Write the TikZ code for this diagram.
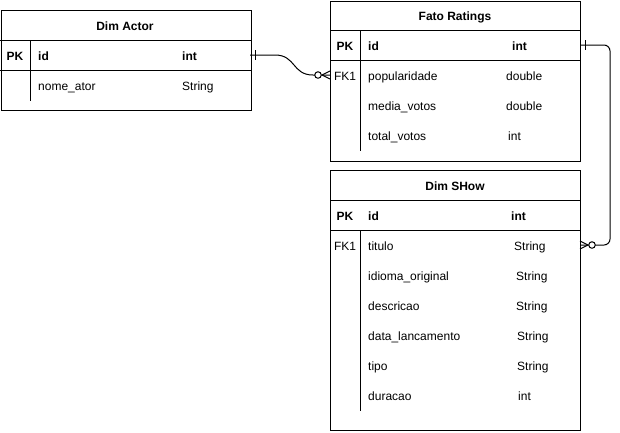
\documentclass[tikz,border=0pt]{standalone}
\usepackage{fontspec}
\setmainfont{Liberation Sans}
\tikzset{
  ln/.style={line width=1pt, line cap=rect},
  tbl/.style={draw, line width=1pt, anchor=north west, inner sep=0pt, minimum width=250pt},
  hdr/.style={anchor=base, inner sep=0pt, font=\fontsize{12}{14}\selectfont\bfseries},
  pkt/.style={anchor=base west, inner sep=0pt, font=\fontsize{12}{14}\selectfont\bfseries},
  pkk/.style={anchor=base, inner sep=0pt, font=\fontsize{12}{14}\selectfont\bfseries},
  fld/.style={anchor=base west, inner sep=0pt, font=\fontsize{12}{14}\selectfont},
  key/.style={anchor=base, inner sep=0pt, font=\fontsize{12}{14}\selectfont},
  circ/.style={draw, line width=1pt, fill=white, circle, inner sep=0pt, minimum size=6.5pt},
}
\begin{document}
\begin{tikzpicture}[x=1pt,y=-1pt]
\useasboundingbox (0,0) rectangle (620,432);
% ---------- Dim Actor ----------
\node[tbl, minimum height=100pt] (actor) at (0.5,10) {};
\draw[ln] (0.5,40) -- (250,40);
\draw[ln] (0.5,70) -- (250,70);
\draw[ln] (30,40) -- (30,100);
\node[hdr] (actorh) at (125,30.2) {Dim Actor};
\node[pkk] (actorpk) at (15,60.2) {PK};
\node[pkt] (actorid) at (38,60.2) {id};
\node[pkt] (actoridt) at (182,60.2) {int};
\node[fld] (actorn) at (38,90.2) {nome\_ator};
\node[fld] (actornt) at (182,90.2) {String};
% ---------- Fato Ratings ----------
\node[tbl, minimum height=160pt] (fato) at (330,0.5) {};
\draw[ln] (330,30) -- (580,30);
\draw[ln] (330,60) -- (580,60);
\draw[ln] (360,30) -- (360,150);
\node[hdr] (fatoh) at (455,20.2) {Fato Ratings};
\node[pkk] (fatopk) at (345,50.2) {PK};
\node[pkt] (fatoid) at (368,50.2) {id};
\node[pkt] (fatoidt) at (512,50.2) {int};
\node[key] (fatofk) at (345,80.2) {FK1};
\node[fld] (fatop) at (368,80.2) {popularidade};
\node[fld] (fatopt) at (506,80.2) {double};
\node[fld] (fatom) at (368,110.2) {media\_votos};
\node[fld] (fatomt) at (506,110.2) {double};
\node[fld] (fatot) at (368,140.2) {total\_votos};
\node[fld] (fatott) at (508,140.2) {int};
% ---------- Dim SHow ----------
\node[tbl, minimum height=260pt] (show) at (330,170) {};
\draw[ln] (330,200) -- (580,200);
\draw[ln] (330,230) -- (580,230);
\draw[ln] (360,230) -- (360,410);
\node[hdr] (showh) at (455,190.2) {Dim SHow};
\node[pkk] (showpk) at (345,220.2) {PK};
\node[pkt] (showid) at (368,220.2) {id};
\node[pkt] (showidt) at (511,220.2) {int};
\node[key] (showfk) at (345,250.2) {FK1};
\node[fld] (show1) at (368,250.2) {titulo};
\node[fld] (show1t) at (514,250.2) {String};
\node[fld] (show2) at (368,280.2) {idioma\_original};
\node[fld] (show2t) at (516,280.2) {String};
\node[fld] (show3) at (368,310.2) {descricao};
\node[fld] (show3t) at (516,310.2) {String};
\node[fld] (show4) at (368,340.2) {data\_lancamento};
\node[fld] (show4t) at (517,340.2) {String};
\node[fld] (show5) at (368,370.2) {tipo};
\node[fld] (show5t) at (517,370.2) {String};
\node[fld] (show6) at (368,400.2) {duracao};
\node[fld] (show6t) at (518,400.2) {int};
% ---------- connector Actor -> Fato ----------
\coordinate (c1s) at (250,55);
\coordinate (c1a) at (275,55);
\coordinate (c1b) at (313,75);
\coordinate (c1e) at (330,75);
\coordinate (c1f) at (322,75);
\draw[line width=1pt] (c1s) -- (c1a) .. controls (296,55) and (292,75) .. (c1b) -- (c1e);
\draw[line width=1pt] (255,50) -- (255,60);
\draw[line width=1pt] (c1f) -- (330,71) (c1f) -- (330,79);
\node[circ] (c1o) at (318,75) {};
% ---------- connector Fato -> Show ----------
\coordinate (c2s) at (580,45);
\coordinate (c2e) at (580,245);
\coordinate (c2f) at (588,245);
\draw[line width=1pt, rounded corners=6pt] (c2s) -- (610,45) -- (610,245) -- (c2e);
\draw[line width=1pt] (585,40) -- (585,50);
\draw[line width=1pt] (c2f) -- (580,241) (c2f) -- (580,249);
\node[circ] (c2o) at (592,245) {};
\end{tikzpicture}
\end{document}
